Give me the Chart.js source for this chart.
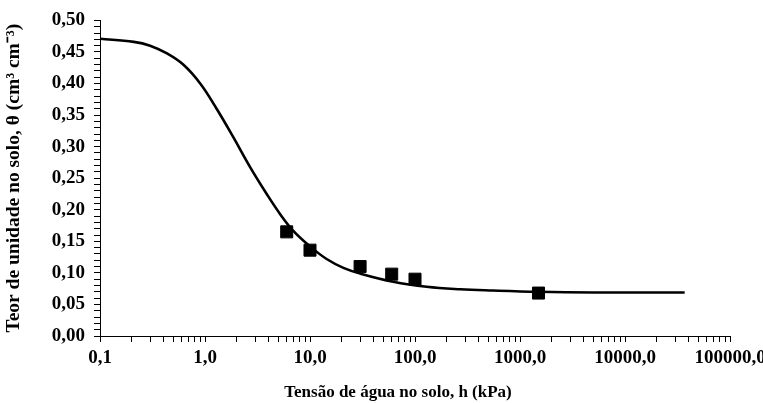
<!DOCTYPE html>
<html><head><meta charset="utf-8">
<script src="https://cdn.jsdelivr.net/npm/chart.js@4/dist/chart.umd.min.js"></script>
<style>html,body{margin:0;padding:0;background:#fff}#wrap{width:763px;height:403px;position:relative}</style>
</head><body><div id="wrap"><canvas id="c"></canvas></div>
<script>
// Observed data (squares)
const tensionObs = [6, 10, 30, 60, 100, 1500];
const moistureObs = [0.165, 0.136, 0.110, 0.098, 0.090, 0.068];
// Fitted retention curve
const tensionFit = [0.1, 0.21, 0.3, 0.43, 0.62, 0.9, 1.29, 1.86, 2.68, 3.87, 5.2, 6.9, 10, 14.4, 20.8, 30, 62, 129, 269, 550, 1500, 5000, 37000];
const moistureFit = [0.471, 0.466, 0.460, 0.448, 0.430, 0.400, 0.360, 0.315, 0.268, 0.225, 0.193, 0.167, 0.142, 0.122, 0.108, 0.099, 0.086, 0.078, 0.074, 0.072, 0.070, 0.069, 0.069];
// Axis tick labels
const xMajorTicks = [0.1, 1, 10, 100, 1000, 10000, 100000];
const xTickLabels = ['0,1', '1,0', '10,0', '100,0', '1000,0', '10000,0', '100000,0'];
const yTickLabels = ['0,00','0,05','0,10','0,15','0,20','0,25','0,30','0,35','0,40','0,45','0,50'];
const xAxisTitle = 'Tensão de água no solo, h (kPa)';
const yAxisTitle = 'Teor de unidade no solo, θ (cm³ cm⁻³)';

const FONT = "'Liberation Serif', 'Times New Roman', serif";

new Chart(document.getElementById('c'), {
  type: 'scatter',
  data: {
    datasets: [
      {
        label: 'Ajuste',
        data: tensionFit.map((x, i) => ({x, y: moistureFit[i]})),
        showLine: true,
        borderColor: '#000',
        borderWidth: 2.6,
        pointRadius: 0,
        tension: 0.4,
        order: 2
      },
      {
        label: 'Observado',
        data: tensionObs.map((x, i) => ({x, y: moistureObs[i]})),
        showLine: false,
        pointStyle: 'rect',
        pointRadius: 8.5,
        pointHoverRadius: 8.5,
        backgroundColor: '#000',
        borderColor: '#000',
        borderWidth: 1,
        order: 1
      }
    ]
  },
  options: {
    responsive: true,
    maintainAspectRatio: false,
    animation: false,
    events: [],
    layout: { padding: { top: 20, right: 33, left: 0, bottom: 0 } },
    plugins: { legend: { display: false }, tooltip: { enabled: false } },
    scales: {
      x: {
        type: 'logarithmic',
        min: 0.1,
        max: 100000,
        afterBuildTicks: (scale) => {
          const t = [];
          xMajorTicks.forEach((m, k) => {
            if (k === xMajorTicks.length - 1) { t.push({value: m, major: true}); return; }
            for (let d = 1; d <= 9; d++) t.push({value: m * d, major: d === 1});
          });
          scale.ticks = t;
        },
        afterFit: (scale) => { scale.height = 67; scale.paddingRight = 0; scale.paddingLeft = 0; },
        grid: { drawOnChartArea: false, drawTicks: true, tickLength: 6, color: '#000', tickColor: '#000', tickWidth: 1 },
        border: { display: true, color: '#000', width: 1 },
        ticks: {
          autoSkip: false, maxRotation: 0, minRotation: 0, padding: 5,
          color: '#000',
          font: { family: FONT, size: 19, weight: 'bold' },
          callback: (v) => {
            const i = xMajorTicks.findIndex(m => Math.abs(m - v) < m * 1e-6);
            return i >= 0 ? xTickLabels[i] : '';
          }
        },
        title: {
          display: true, text: xAxisTitle + '\u00a0'.repeat(8), color: '#000',
          font: { family: FONT, size: 17, weight: 'bold' },
          padding: { top: 4, bottom: 0 }
        }
      },
      y: {
        type: 'linear',
        min: 0,
        max: 0.5,
        afterFit: (scale) => { scale.width = 100; },
        grid: { drawOnChartArea: false, drawTicks: true, tickLength: 6, color: '#000', tickColor: '#000', tickWidth: 1 },
        border: { display: true, color: '#000', width: 1 },
        ticks: {
          stepSize: 0.01, autoSkip: false, padding: 9,
          color: '#000',
          font: { family: FONT, size: 19, weight: 'bold' },
          callback: (v) => {
            const c = Math.round(v * 100);
            return c % 5 === 0 ? yTickLabels[c / 5] : '';
          }
        },
        title: {
          display: true, text: yAxisTitle, color: '#000',
          font: { family: FONT, size: 19.5, weight: 'bold' },
          padding: { top: 2, bottom: 4 }
        }
      }
    }
  }
});
</script>
</body></html>
